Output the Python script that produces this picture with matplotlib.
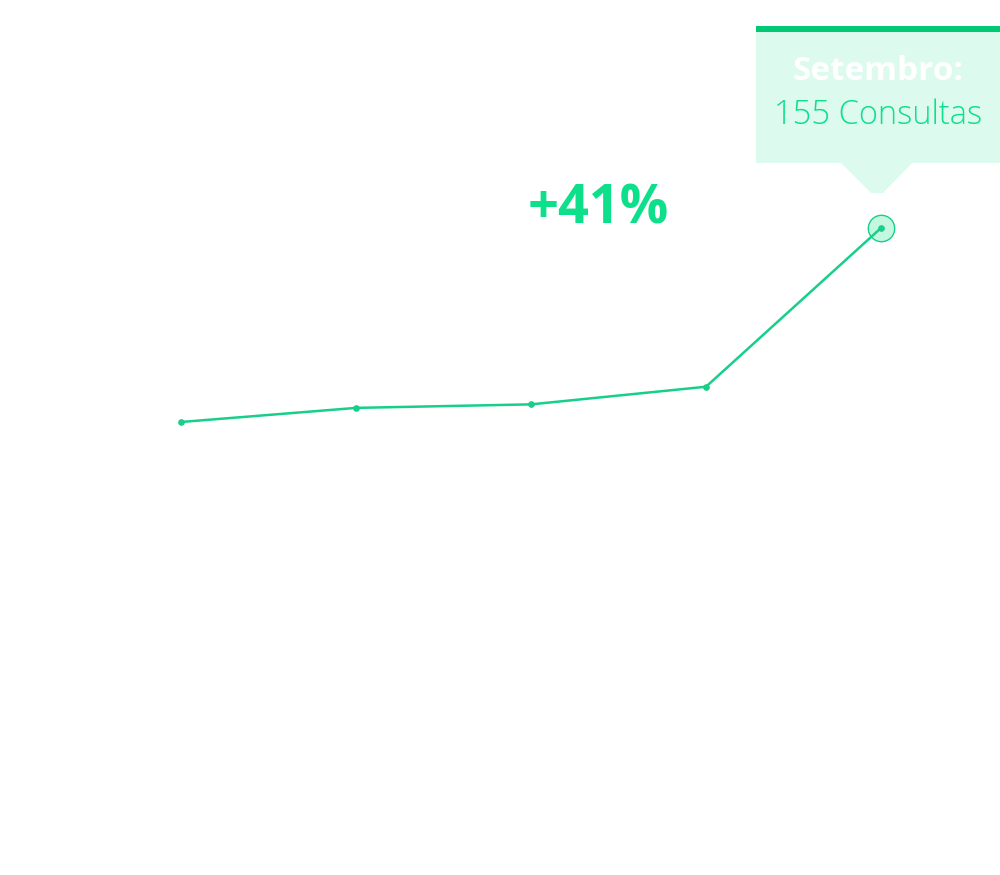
import matplotlib
matplotlib.use("Agg")
from matplotlib import pyplot as plt
from matplotlib.patches import Rectangle, Polygon

# data
months = ['Maio', 'Junho', 'Julho', 'Agosto', 'Setembro']
consultas = [100, 104, 105, 110, 155]
growth_label = '+41%'
tip_title = 'Setembro:'
tip_value = '155 Consultas'

line_col = '#17cf8a'
green = '#0ddf8a'

fig = plt.figure(figsize=(10, 8.75), dpi=100)
ax = fig.add_axes([0, 0, 1, 1])
xs = list(range(len(months)))
ax.plot(xs, consultas, color=line_col, lw=1.8, marker='o', ms=3.8, zorder=3)
ax.set_xlim(-181 / 175, (1000 - 181) / 175)
ax.set_ylim(100 - (875 - 422) * 55 / 194, 155 + 228 * 55 / 194)
ax.axis('off')

# highlight ring around last point
ax.plot(xs[-1], consultas[-1], 'o', ms=19, mfc='#c3f7df', mec=line_col, mew=1, zorder=2)

# overlay in pixel coords for the tooltip + labels
ov = fig.add_axes([0, 0, 1, 1], facecolor='none')
ov.set_xlim(0, 1000)
ov.set_ylim(875, 0)
ov.axis('off')

ov.add_patch(Rectangle((756, 26), 250, 137, fc='#dcfbee', ec='none'))
ov.add_patch(Rectangle((756, 26), 250, 6, fc='#00c874', ec='none'))
ov.add_patch(Polygon([(840, 162), (913, 162), (883, 193), (871, 193)], closed=True, fc='#dcfbee', ec='none'))

ov.text(878, 72, tip_title, ha='center', va='center', fontsize=24, fontweight='bold',
        color='white', family='Open Sans')
ov.text(878, 115, tip_value, ha='center', va='center', fontsize=23.5, fontweight='light',
        color=green, family='Open Sans')
ov.text(598, 209, growth_label, ha='center', va='center', fontsize=39, fontweight='bold',
        color=green, family='Open Sans')

fig.savefig('out.png', dpi=100)
